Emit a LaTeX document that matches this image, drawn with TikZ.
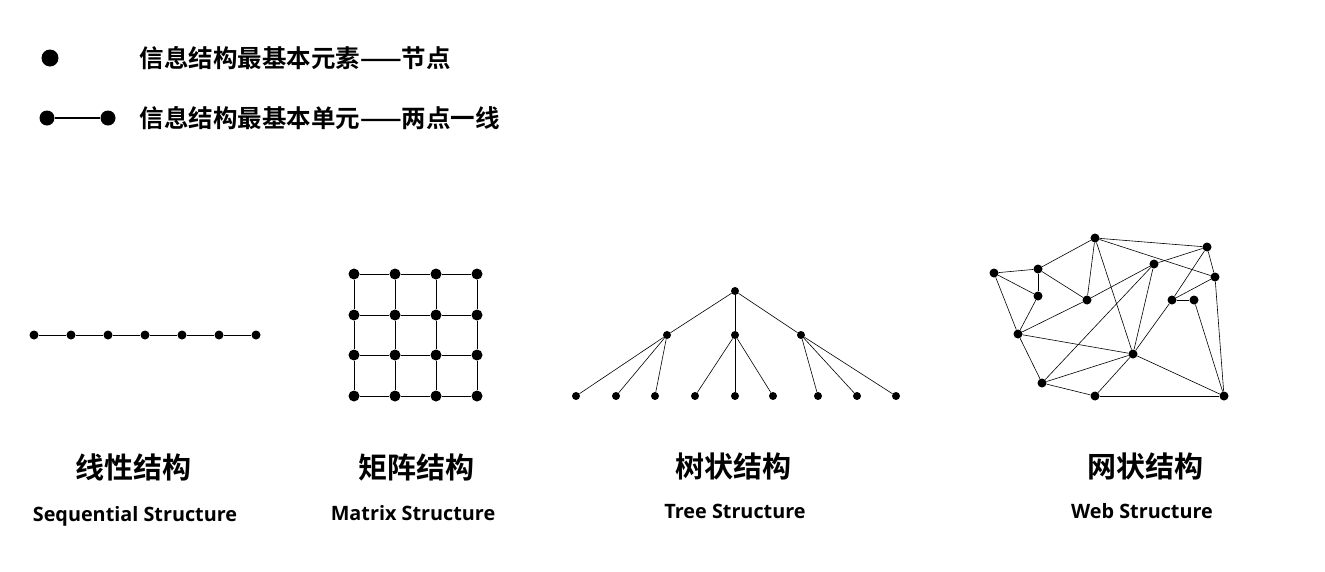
\documentclass[tikz,border=0pt]{standalone}
\usepackage{fontspec}
\setmainfont{Open Sans}
\newfontfamily\cjk{Noto Sans CJK SC}[BoldFont={Noto Sans CJK SC Bold}]
\begin{document}
\begin{tikzpicture}[x=1pt,y=-1pt,
  ln/.style={line width=0.6pt},
  dt/.style={circle,fill=black,inner sep=0pt,minimum size=#1},
  cn/.style={font=\cjk\bfseries\fontsize{29}{34}\selectfont,anchor=center},
  en/.style={font=\bfseries\fontsize{19.8}{23}\selectfont,anchor=center},
  lg/.style={font=\cjk\bfseries\fontsize{24.5}{29}\selectfont,anchor=west}]
\useasboundingbox (0,0) rectangle (1325,571);
% legend
\node[dt=17pt] (l1) at (50,58) {};
\node[lg] (t1) at (136,58) {信息结构最基本元素——节点};
\node[dt=15pt] (l2a) at (47,118) {};
\node[dt=15pt] (l2b) at (108,118) {};
\draw[line width=1.5pt] (l2a) -- (l2b);
\node[lg] (t2) at (136,118) {信息结构最基本单元——两点一线};
% sequential
\foreach \i/\x in {1/34,2/71,3/108,4/145,5/182,6/219,7/256}{\node[dt=9pt] (s\i) at (\x,335) {};}
\foreach \i [evaluate=\i as \j using int(\i+1)] in {1,...,6}{\draw[ln] (s\i) -- (s\j);}
% matrix
\foreach \c/\x in {1/354,2/395,3/436,4/477}{\foreach \r/\y in {1/274,2/315,3/355,4/396}{\node[dt=11pt] (m\c\r) at (\x,\y) {};}}
\foreach \c in {1,...,4}{\foreach \r [evaluate=\r as \s using int(\r+1)] in {1,2,3}{\draw[ln] (m\c\r) -- (m\c\s); \draw[ln] (m\r\c) -- (m\s\c);}}
% tree
\node[dt=8pt] (r) at (735,291) {};
\node[dt=8pt] (a1) at (667,335) {};
\node[dt=8pt] (a2) at (735,335) {};
\node[dt=8pt] (a3) at (801,335) {};
\foreach \i/\x in {1/576,2/616,3/655,4/695,5/735,6/773,7/818,8/857,9/896}{\node[dt=8pt] (b\i) at (\x,396) {};}
\foreach \a in {1,2,3}{\draw[ln] (r) -- (a\a);}
\foreach \b in {1,2,3}{\draw[ln] (a1) -- (b\b);}
\foreach \b in {4,5,6}{\draw[ln] (a2) -- (b\b);}
\foreach \b in {7,8,9}{\draw[ln] (a3) -- (b\b);}
% web
\foreach \n/\x/\y in {A/994/273,B/1038/269,C/1038/296,D/1095/238,E/1087/300,F/1154/264,G/1207/247,H/1215/277,I/1172/300,J/1194/300,K/1018/334,L/1133/354,M/1042/383,N/1095/396,O/1224/396}{\node[dt=9pt] (w\n) at (\x,\y) {};}
\foreach \p/\q in {A/B,A/C,A/K,B/C,B/D,B/E,C/K,D/E,D/G,D/H,D/L,E/K,E/F,F/G,F/M,F/L,G/I,G/H,H/O,H/I,I/J,J/O,I/L,K/L,K/M,M/L,M/N,N/L,N/O,L/O}{\draw[ln] (w\p) -- (w\q);}
% labels
\node[cn] (c1) at (133,467) {线性结构};
\node[en] (e1) at (135,516) {Sequential Structure};
\node[cn] (c2) at (416,467) {矩阵结构};
\node[en] (e2) at (413,513) {Matrix Structure};
\node[cn] (c3) at (733,466) {树状结构};
\node[en] (e3) at (735,511) {Tree Structure};
\node[cn] (c4) at (1145,466) {网状结构};
\node[en] (e4) at (1142,511) {Web Structure};
\end{tikzpicture}
\end{document}
